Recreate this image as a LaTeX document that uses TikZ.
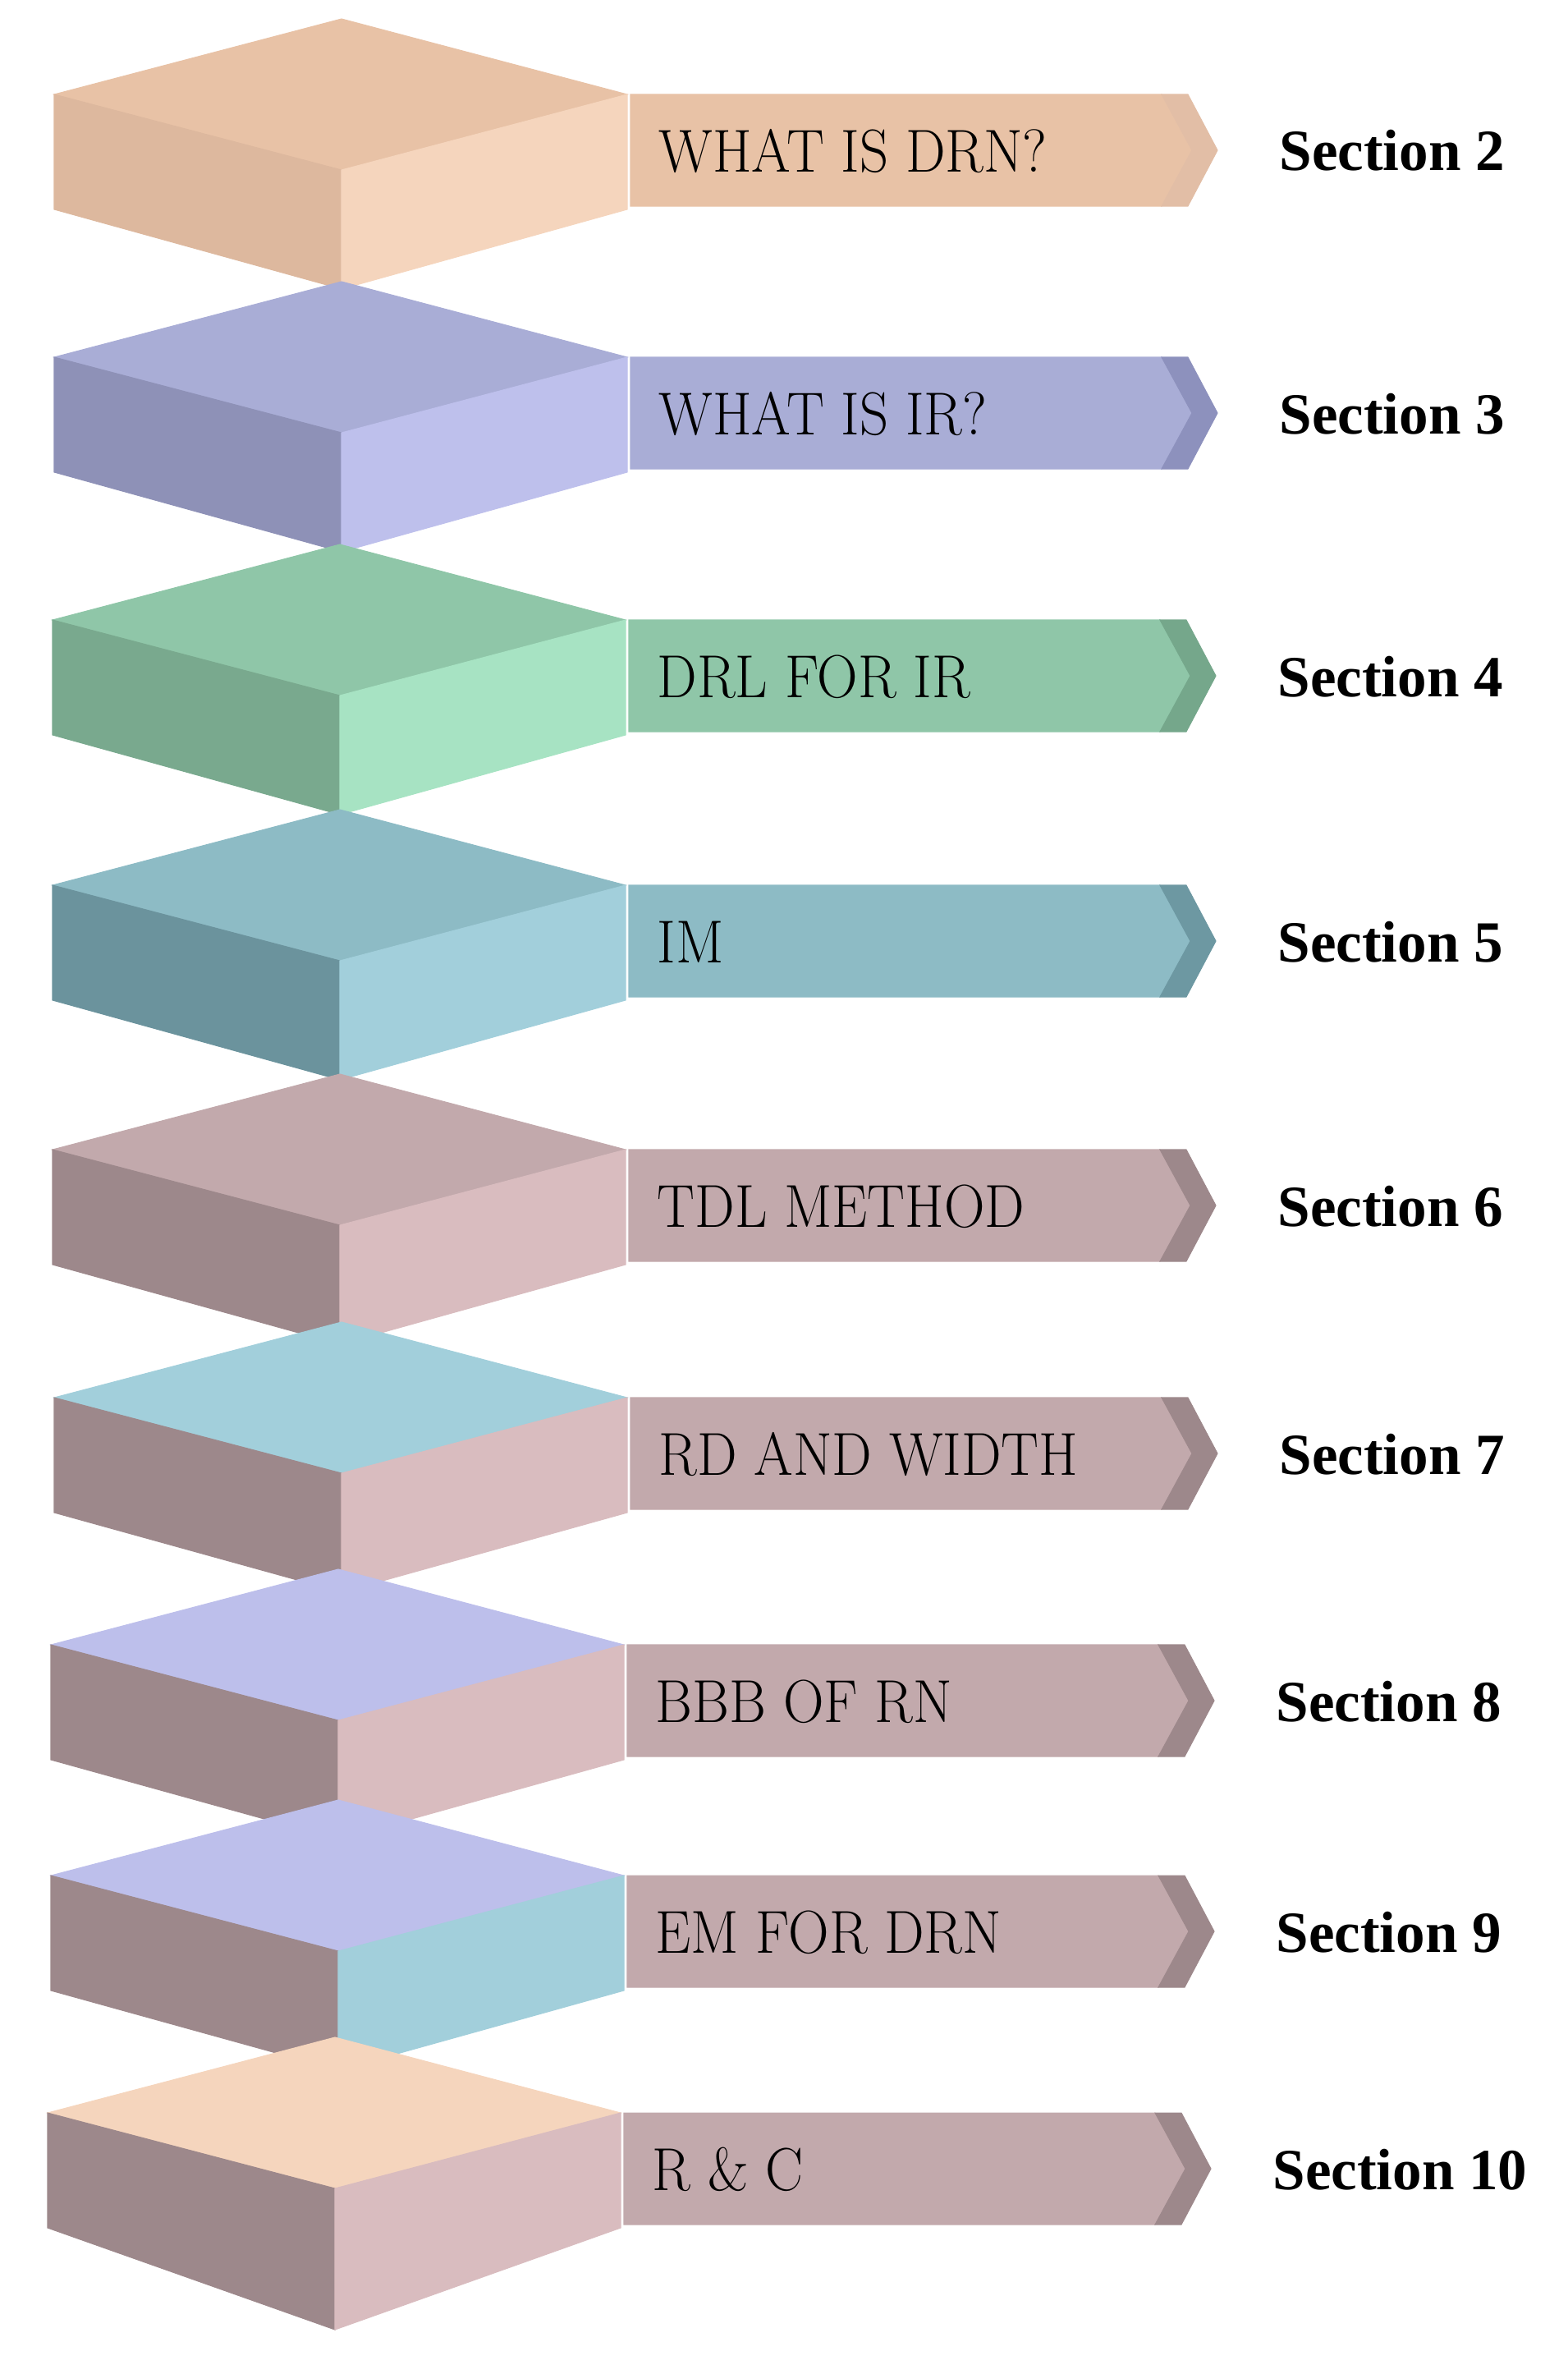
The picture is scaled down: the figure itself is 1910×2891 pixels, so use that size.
\documentclass[tikz,border=0pt]{standalone}
\usepackage{fontspec}
\newfontfamily\secfont{Liberation Serif}
\usetikzlibrary{positioning}

% cube and banner colours
\definecolor{peachT}{HTML}{E8C2A6}
\definecolor{peachL}{HTML}{DDB89E}
\definecolor{peachR}{HTML}{F5D5BD}
\definecolor{peachC}{HTML}{E2BEA6}
\definecolor{violT}{HTML}{A9ADD6}
\definecolor{violL}{HTML}{8E91B7}
\definecolor{violR}{HTML}{BEC0EC}
\definecolor{violC}{HTML}{8D91BD}
\definecolor{greenT}{HTML}{8FC6A8}
\definecolor{greenL}{HTML}{79A98E}
\definecolor{greenR}{HTML}{A7E3C3}
\definecolor{greenC}{HTML}{75A78B}
\definecolor{tealT}{HTML}{8DBBC5}
\definecolor{tealL}{HTML}{6B939D}
\definecolor{tealR}{HTML}{A2CFDB}
\definecolor{tealC}{HTML}{6D98A2}
\definecolor{mauveT}{HTML}{C2A9AC}
\definecolor{mauveL}{HTML}{9D888B}
\definecolor{mauveR}{HTML}{D9BCBF}
\definecolor{mauveC}{HTML}{9D888B}
\definecolor{lavT}{HTML}{BDBFEB}

\newcommand{\narrow}[1]{\scalebox{0.93}[1]{#1}}

\tikzset{
  face/.style={fill=#1, draw=#1, line width=0.3pt},
  topic/.style={anchor=base west, inner sep=0pt, font=\fontsize{21}{24}\selectfont},
  sect/.style={anchor=base west, inner sep=0pt, font=\secfont\bfseries\fontsize{20.2}{24}\selectfont}
}

\begin{document}
\begin{tikzpicture}[x=0.01cm, y=-0.01cm]
\useasboundingbox (0,0) rectangle (1910,2891);
\foreach \i/\t/\dx/\b/\ct/\cl/\cr/\bc/\ch/\txt/\num in {
  1/23/0/329/peachT/peachL/peachR/peachT/peachC/WHAT IS DRN?/2,
  2/343/0/329/violT/violL/violR/violT/violC/WHAT IS IR?/3,
  3/663/-2/329/greenT/greenL/greenR/greenT/greenC/DRL FOR IR/4,
  4/986/-2/329/tealT/tealL/tealR/tealT/tealC/IM/5,
  5/1308/-2/329/mauveT/mauveL/mauveR/mauveT/mauveC/TDL METHOD/6,
  6/1610/0/329/tealR/mauveL/mauveR/mauveT/mauveC/RD AND WIDTH/7,
  7/1911/-4/329/lavT/mauveL/mauveR/mauveT/mauveC/BBB OF RN/8,
  8/2192/-4/329/lavT/mauveL/tealR/mauveT/mauveC/EM FOR DRN/9,
  9/2481/-8/356/peachR/mauveL/mauveR/mauveT/mauveC/R \& C/10}{
  \pgfmathsetmacro\cx{416+\dx}
  % block
  \fill[face=\ct] (\cx,\t) -- (\cx-350,\t+92) -- (\cx,\t+184) -- (\cx+348,\t+92) -- cycle;
  \fill[face=\cl] (\cx-350,\t+92) -- (\cx,\t+184) -- (\cx,\t+\b) -- (\cx-350,\t+232) -- cycle;
  \fill[face=\cr] (\cx+348,\t+92) -- (\cx,\t+184) -- (\cx,\t+\b) -- (\cx+348,\t+232) -- cycle;
  % banner with chevron end
  \fill[face=\bc] (\cx+352,\t+92) -- (\cx+999,\t+92) -- (\cx+1036,\t+160)
    -- (\cx+999,\t+228) -- (\cx+352,\t+228) -- cycle;
  \fill[face=\ch] (\cx+999,\t+92) -- (\cx+1031,\t+92) -- (\cx+1067,\t+160)
    -- (\cx+1031,\t+228) -- (\cx+999,\t+228) -- (\cx+1036,\t+160) -- cycle;
  \node[topic] (t\i) at (\cx+386,\t+186) {\narrow{\txt}};
  \node[sect] (s\i) at (\cx+1142,\t+185) {Section \num};
}
\end{tikzpicture}
\end{document}
